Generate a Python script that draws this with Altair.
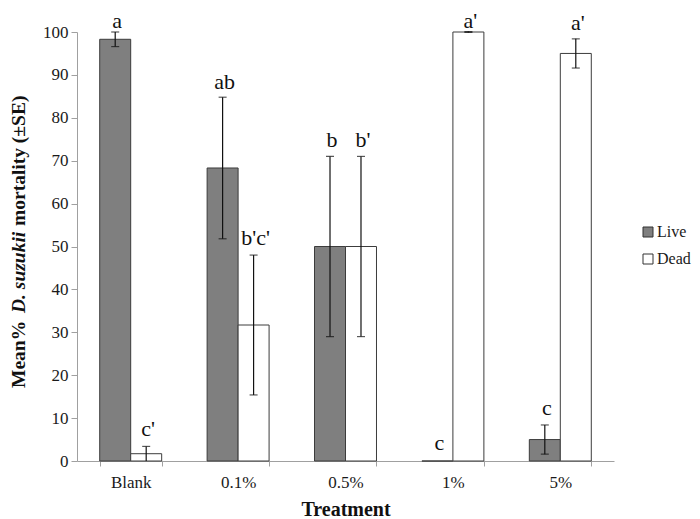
import altair as alt
import pandas as pd

treatments = ["Blank", "0.1%", "0.5%", "1%", "5%"]
statuses = ["Live", "Dead"]

live_mean = [98.3, 68.3, 50.0, 0.0, 5.0]
live_se = [1.7, 16.5, 21.0, 0.0, 3.4]
dead_mean = [1.7, 31.7, 50.0, 100.0, 95.0]
dead_se = [1.7, 16.3, 21.0, 0.1, 3.4]

live_letters = ["a", "ab", "b", "c", "c"]
dead_letters = ["c'", "b'c'", "b'", "a'", "a'"]
live_letter_y = [101.0, 86.6, 73.1, 2.6, 10.7]
dead_letter_y = [5.8, 50.3, 73.1, 101.0, 100.4]

rows = []
for i, t in enumerate(treatments):
    rows.append(dict(Treatment=t, Status="Live", mean=live_mean[i], se=live_se[i],
                     lo=live_mean[i] - live_se[i], hi=live_mean[i] + live_se[i],
                     letter=live_letters[i], ly=live_letter_y[i]))
    rows.append(dict(Treatment=t, Status="Dead", mean=dead_mean[i], se=dead_se[i],
                     lo=max(0.0, dead_mean[i] - dead_se[i]), hi=dead_mean[i] + dead_se[i],
                     letter=dead_letters[i], ly=dead_letter_y[i]))
df = pd.DataFrame(rows)

SERIF = "Liberation Serif"

x_enc = alt.X("Treatment:N", sort=treatments,
              scale=alt.Scale(paddingInner=0.423, paddingOuter=0.2115),
              axis=alt.Axis(title="Treatment", labelAngle=0, tickBand="extent",
                            domainColor="#a0a0a0", tickColor="#a0a0a0", tickSize=5,
                            labelFont=SERIF, labelFontSize=17, labelColor="#1a1a1a",
                            labelPadding=8, titleFont=SERIF, titleFontSize=20,
                            titleFontWeight="bold", titleColor="#111", titlePadding=9))
xo_enc = alt.XOffset("Status:N", sort=statuses,
                     scale=alt.Scale(domain=statuses, paddingInner=0, paddingOuter=0))

y_scale = alt.Scale(domain=[0, 100], nice=False)

base = alt.Chart(df)

bars = base.mark_bar(stroke="#3c3c3c", strokeWidth=1).encode(
    x=x_enc,
    xOffset=xo_enc,
    y=alt.Y("mean:Q", scale=y_scale,
            axis=alt.Axis(values=list(range(0, 101, 10)), title=None, grid=False,
                          domainColor="#a0a0a0", tickColor="#a0a0a0", tickSize=6,
                          labelFont=SERIF, labelFontSize=17, labelColor="#1a1a1a",
                          labelPadding=3)),
    color=alt.Color("Status:N", sort=statuses,
                    scale=alt.Scale(domain=statuses, range=["#7f7f7f", "#ffffff"]),
                    legend=alt.Legend(title=None, orient="none", legendX=563, legendY=192,
                                      symbolType="square", symbolSize=100,
                                      symbolStrokeColor="#333333", symbolStrokeWidth=1,
                                      labelFont=SERIF, labelFontSize=16, labelColor="#1a1a1a",
                                      rowPadding=11, labelOffset=1)),
)

err = base.transform_filter("datum.se > 0")

rules = err.mark_rule(color="#111", strokeWidth=1.2).encode(
    x=alt.X("Treatment:N", sort=treatments),
    xOffset=alt.XOffset("Status:N", sort=statuses),
    y=alt.Y("lo:Q", scale=y_scale),
    y2="hi:Q",
)
caps_hi = err.mark_tick(color="#111", thickness=1.2, size=8).encode(
    x=alt.X("Treatment:N", sort=treatments),
    xOffset=alt.XOffset("Status:N", sort=statuses),
    y=alt.Y("hi:Q", scale=y_scale),
)
caps_lo = err.transform_filter("datum.lo > 0").mark_tick(color="#111", thickness=1.2, size=8).encode(
    x=alt.X("Treatment:N", sort=treatments),
    xOffset=alt.XOffset("Status:N", sort=statuses),
    y=alt.Y("lo:Q", scale=y_scale),
)

letters = base.mark_text(font=SERIF, fontSize=22, baseline="alphabetic", align="center",
                         color="#111", dx=2).encode(
    x=alt.X("Treatment:N", sort=treatments),
    xOffset=alt.XOffset("Status:N", sort=statuses),
    y=alt.Y("ly:Q", scale=y_scale),
    text="letter:N",
)

one = pd.DataFrame({"k": [0]})
title_x = -58
title_fs = 19.5
t1 = alt.Chart(one).mark_text(text="Mean%", font=SERIF, fontSize=title_fs, fontWeight="bold",
                              angle=270, align="left", baseline="middle", color="#111").encode(
    x=alt.value(title_x), y=alt.value(356))
t2 = alt.Chart(one).mark_text(text="D. suzukii", font=SERIF, fontSize=title_fs, fontWeight="bold",
                              fontStyle="italic", angle=270, align="left", baseline="middle",
                              color="#111").encode(
    x=alt.value(title_x), y=alt.value(281))
t3 = alt.Chart(one).mark_text(text="mortality (±SE)", font=SERIF, fontSize=title_fs, fontWeight="bold",
                              angle=270, align="left", baseline="middle", color="#111").encode(
    x=alt.value(title_x), y=alt.value(194))

chart = alt.layer(bars, rules, caps_hi, caps_lo, letters, t1, t2, t3).properties(
    width=537, height=429,
    autosize=alt.AutoSizeParams(type="none"),
    padding={"left": 69, "top": 24, "right": 78, "bottom": 58},
).configure_view(stroke=None)

chart.save("out.html", embed_options={"renderer": "svg", "actions": False})
